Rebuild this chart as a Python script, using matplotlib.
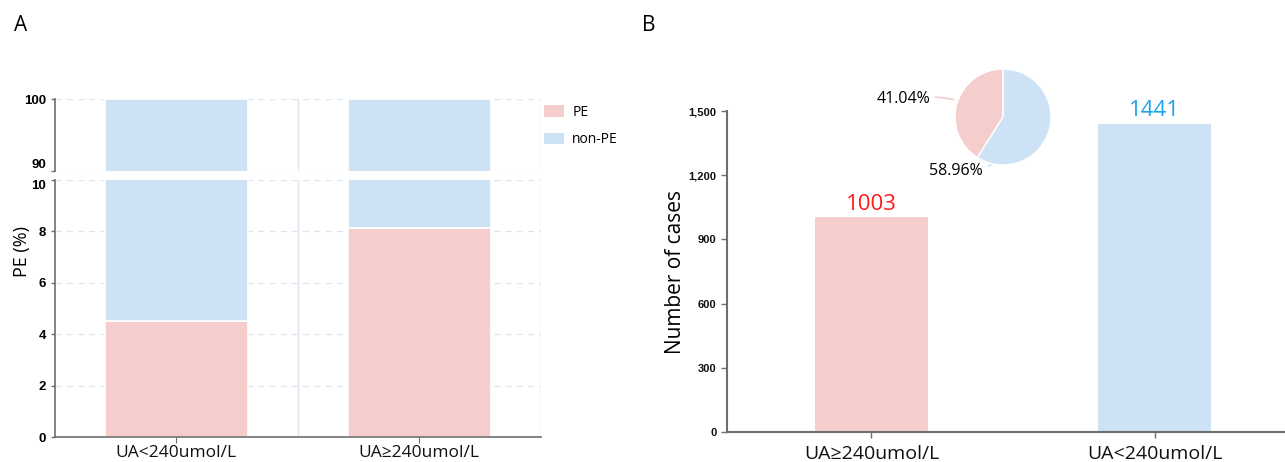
import numpy as np
import matplotlib.pyplot as plt
from matplotlib.patches import Patch

# data
groups_a = ["UA<240umol/L", "UA≥240umol/L"]
pe_pct = [4.5, 8.13]
nonpe_pct = [95.5, 91.87]

groups_b = ["UA≥240umol/L", "UA<240umol/L"]
cases = [1003, 1441]
pie_share = [41.04, 58.96]

pink = "#f5cdcd"
blue = "#cde2f5"
grid_c = "#dfe5ee"
spine_c = "#6e6e6e"

txt_font = ["Open Sans", "DejaVu Sans"]
num_font = ["Liberation Sans", "DejaVu Sans"]

fig = plt.figure(figsize=(12.85, 4.62), dpi=100)

# ---- panel A: broken axis stacked bars ----
ax_lo = fig.add_axes([0.0428, 0.0541, 0.378, 0.5563])
ax_hi = fig.add_axes([0.0428, 0.6299, 0.378, 0.1558])

x = np.arange(len(groups_a))
for ax in (ax_lo, ax_hi):
    ax.bar(x, pe_pct, width=0.59, color=pink, edgecolor="white", linewidth=1.2, zorder=2)
    ax.bar(x, nonpe_pct, width=0.59, bottom=pe_pct, color=blue, edgecolor="white",
           linewidth=1.2, zorder=2)
    ax.set_xlim(-0.5, 1.5)
    for s in ["top", "right"]:
        ax.spines[s].set_visible(False)
    ax.spines["left"].set_color(spine_c)
    ax.spines["left"].set_linewidth(1.2)
    ax.yaxis.grid(True, linestyle=(0, (5, 4)), color=grid_c, linewidth=0.9, zorder=0)
    ax.axvline(0.5, color=grid_c, linewidth=1.0, zorder=0)
    ax.axvline(1.5, color=grid_c, linewidth=1.0, zorder=0)
    ax.tick_params(axis="y", colors=spine_c, length=3, width=1, labelcolor="black")

ax_lo.set_ylim(0, 10)
ax_lo.set_yticks([0, 2, 4, 6, 8, 10])
ax_hi.set_ylim(90, 100)
ax_hi.set_yticks([90, 100])
ax_hi.spines["bottom"].set_visible(False)
ax_hi.set_xticks([])
ax_lo.spines["bottom"].set_color(spine_c)
ax_lo.spines["bottom"].set_linewidth(1.2)
ax_lo.set_xticks(x)
ax_lo.set_xticklabels(groups_a, fontsize=12.5, family=txt_font)
ax_lo.tick_params(axis="x", colors=spine_c, length=4, labelcolor="#111111", pad=2)
for ax in (ax_lo, ax_hi):
    for lab in ax.get_yticklabels():
        lab.set_fontsize(9.5)
        lab.set_fontweight("bold")
        lab.set_family(num_font)
# keep the labels at the break apart
ax_hi.get_yticklabels()[0].set_verticalalignment("bottom")
ax_lo.get_yticklabels()[-1].set_verticalalignment("top")

fig.text(0.017, 0.455, "PE (%)", rotation=90, fontsize=13, family=txt_font,
         ha="center", va="center")
fig.text(0.016, 0.945, "A", fontsize=15, family=txt_font, ha="center", va="center")

fig.legend(handles=[Patch(facecolor=pink, label="PE"), Patch(facecolor=blue, label="non-PE")],
           loc="upper left", bbox_to_anchor=(0.414, 0.8), frameon=False,
           prop={"family": txt_font, "size": 10}, handlelength=1.4, handleheight=0.9,
           labelspacing=0.9, handletextpad=0.6)

# ---- panel B: case counts ----
ax_b = fig.add_axes([0.5658, 0.0649, 0.4342, 0.6948])
xb = np.arange(len(groups_b))
bars = ax_b.bar(xb, cases, width=0.4, color=[pink, blue], zorder=2)
ax_b.set_xlim(-0.51, 1.46)
ax_b.set_ylim(0, 1500)
ax_b.set_yticks(np.arange(0, 1501, 300))
ax_b.set_yticklabels([f"{v:,}" for v in range(0, 1501, 300)])
for lab in ax_b.get_yticklabels():
    lab.set_fontsize(8)
    lab.set_fontweight("bold")
    lab.set_family(num_font)
ax_b.set_xticks(xb)
ax_b.set_xticklabels(groups_b, fontsize=14, family=txt_font)
for s in ["top", "right"]:
    ax_b.spines[s].set_visible(False)
for s in ["left", "bottom"]:
    ax_b.spines[s].set_color(spine_c)
    ax_b.spines[s].set_linewidth(1.5)
ax_b.tick_params(axis="both", colors=spine_c, length=4, width=1, labelcolor="#111111")
ax_b.tick_params(axis="x", pad=5)
ax_b.set_ylabel("Number of cases", fontsize=15, family=txt_font, labelpad=2)
label_colors = ["#ff1a1a", "#1aa3e8"]
for i, v in enumerate(cases):
    ax_b.text(xb[i], v + 12, str(v), ha="center", va="bottom", fontsize=16,
              color=label_colors[i], family=txt_font, clip_on=False)
fig.text(0.505, 0.945, "B", fontsize=15, family=txt_font, ha="center", va="center")

# pie inset
ax_p = fig.add_axes([0.7432, 0.6429, 0.0747, 0.2078])
ax_p.pie(pie_share, colors=[pink, blue], startangle=90, counterclock=True,
         wedgeprops={"edgecolor": "white", "linewidth": 1})
ax_p.set_xlim(-1, 1)
ax_p.set_ylim(-1, 1)
ax_p.annotate(f"{pie_share[0]:.2f}%", xy=(-0.97, 0.35), xytext=(-1.52, 0.38),
              ha="right", va="center", fontsize=11.5, family=txt_font,
              arrowprops={"arrowstyle": "-", "color": pink, "lw": 1.2,
                          "connectionstyle": "arc3,rad=-0.1"},
              annotation_clip=False)
ax_p.annotate(f"{pie_share[1]:.2f}%", xy=(-0.2, -0.98), xytext=(-0.42, -1.12),
              ha="right", va="center", fontsize=11.5, family=txt_font,
              arrowprops={"arrowstyle": "-", "color": blue, "lw": 1.2,
                          "connectionstyle": "arc3,rad=0.1"},
              annotation_clip=False)

fig.savefig("out.png", dpi=100)
